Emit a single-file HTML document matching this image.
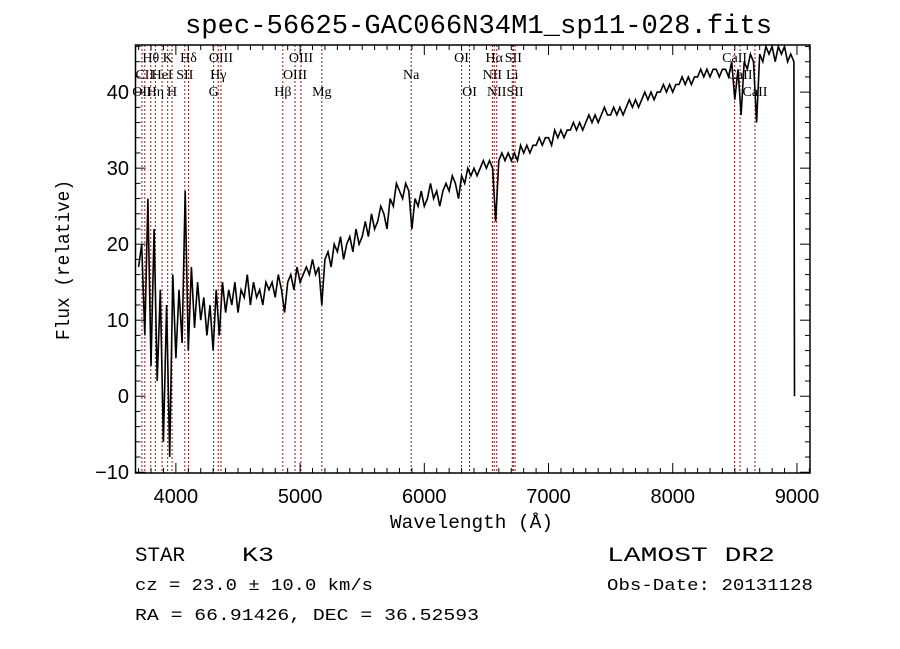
<!DOCTYPE html>
<html><head><meta charset="utf-8"><style>
body{margin:0;background:#fff;}
svg{display:block;}
</style></head><body>
<svg id="chart" width="900" height="649" xmlns="http://www.w3.org/2000/svg">
<rect width="900" height="649" fill="#fff"/>
<text x="185" y="33" font-family="Liberation Mono, monospace" font-size="27" textLength="587" lengthAdjust="spacingAndGlyphs">spec-56625-GAC066N34M1_sp11-028.fits</text>
<g id="lines"></g>
<g id="labels" font-family="Liberation Serif, serif" font-size="14"></g>
<path id="spec" fill="none" stroke="#000" stroke-width="1.6" stroke-linejoin="miter"/>
<g id="axes"></g>
<text x="390" y="528" font-family="Liberation Mono, monospace" font-size="19" textLength="163" lengthAdjust="spacingAndGlyphs">Wavelength (Å)</text>
<text transform="translate(69,340) rotate(-90)" font-family="Liberation Mono, monospace" font-size="19" textLength="160" lengthAdjust="spacingAndGlyphs">Flux (relative)</text>
<g font-family="Liberation Mono, monospace" font-size="20">
<text x="135" y="561" textLength="50" lengthAdjust="spacingAndGlyphs">STAR</text>
<text x="242" y="561" textLength="32" lengthAdjust="spacingAndGlyphs">K3</text>
<text x="607" y="561" textLength="168" lengthAdjust="spacingAndGlyphs">LAMOST DR2</text>
<text x="135" y="590" font-size="17" textLength="238" lengthAdjust="spacingAndGlyphs">cz = 23.0 ± 10.0 km/s</text>
<text x="607" y="590" font-size="17" textLength="206" lengthAdjust="spacingAndGlyphs">Obs-Date: 20131128</text>
<text x="135" y="620" font-size="17" textLength="344" lengthAdjust="spacingAndGlyphs">RA =  66.91426, DEC =  36.52593</text>
</g>
</svg>
<script>
const wlStart = 3700;
const wlStep = 25;
const flux = [17,20,8,26,4,22,2,14,-6,12,-8,16,5,14,7,27,6,17,9,15,10,13,8,12,6,14,8,15,11,14,12,15,11,14,13,16,12,15,13,14,12,15,14,15,13,16,14,11,15,16,14,17,15,16,17,16,18,16,17,12,18,19,17,20,19,21,18,20,21,19,22,20,21,23,21,24,22,23,25,24,22,26,25,28,27,26,28,27,22,26,25,27,25,26,28,26,27,25,27,28,27,29,28,26,29,28,30,29,30,29,30,31,30,31,30,23,31,32,31,32,31,32,31,33,32,33,32,33,33,34,33,34,34,33,35,34,35,34,35,35,36,35,36,35,36,37,36,37,36,37,38,37,37,38,37,38,37,38,39,38,39,38,39,40,39,40,39,40,40,41,40,41,40,41,41,42,41,42,41,42,42,43,42,43,42,43,43,42,43,43,42,44,39,43,37,44,43,45,44,36,45,44,46,45,46,44,46,45,46,44,45,44,0];
const lineWl = [3727,3750,3798,3835,3889,3934,3969,4072,4102,4304,4341,4363,4861,4959,5007,5175,5894,6300,6364,6548,6563,6583,6708,6717,6731,8498,8542,8662];
const lineNames = ["OII","CII","Hθ","Hη","HeI","K","H","SII","Hδ","G","Hγ","OIII","Hβ","OIII","OIII","Mg","Na","OI","OI","NII","Hα","NII","Li","SII","SII","CaII","CaII","CaII"];
const lineRows = [3,2,1,3,2,1,3,2,1,3,2,1,3,2,1,3,2,1,3,2,1,3,2,1,3,1,2,3];
const xTicks = [4000,5000,6000,7000,8000,9000];
const yTicks = [-10,0,10,20,30,40];

const L=135.5,R=810,T=45,B=473, xmin=3675, xmax=9105, ymin=-10.1, ymax=46.2;
const X=w=>L+(w-xmin)/(xmax-xmin)*(R-L);
const Y=v=>B-(v-ymin)/(ymax-ymin)*(B-T);
const NS="http://www.w3.org/2000/svg";
function mk(tag,parent,attrs){const e=document.createElementNS(NS,tag);for(const k in attrs)e.setAttribute(k,attrs[k]);parent.appendChild(e);return e;}

let d="";
flux.forEach((f,i)=>{let w=wlStart+i*wlStep; if(i===flux.length-1) w-=20; d+=(i?"L":"M")+X(w).toFixed(1)+" "+Y(f).toFixed(1);});
document.getElementById('spec').setAttribute('d',d);

const lg=document.getElementById('lines'), lb=document.getElementById('labels');
lineWl.forEach((w,i)=>{
  const l=mk('line',lg,{x1:X(w),x2:X(w),y1:T,y2:B,stroke:'#8b1a1a','stroke-width':1,'stroke-dasharray':'2,2'});
  
  
  const t=mk('text',lb,{x:X(w),y:[0,62,79,96][lineRows[i]],'text-anchor':'middle'});
  t.textContent=lineNames[i];
  
  
});

const ax=document.getElementById('axes');
const fr=mk('rect',ax,{x:L,y:T,width:R-L,height:B-T,fill:'none',stroke:'#000','stroke-width':1.5});


for(let w=3700;w<=9100;w+=100){
  const len=(w%1000===0)?10:5;
  mk('line',ax,{x1:X(w),x2:X(w),y1:B,y2:B-len,stroke:'#000'});
  mk('line',ax,{x1:X(w),x2:X(w),y1:T,y2:T+len,stroke:'#000'});
}
for(let v=-10;v<=46;v+=2){
  const len=(v%10===0)?10:5;
  mk('line',ax,{x1:L,x2:L+len,y1:Y(v),y2:Y(v),stroke:'#000'});
  mk('line',ax,{x1:R,x2:R-len,y1:Y(v),y2:Y(v),stroke:'#000'});
}
xTicks.forEach(w=>{
  const t=mk('text',ax,{x:X(w),y:503,'text-anchor':'middle','font-family':'Liberation Sans, sans-serif','font-size':20});
  t.textContent=w;
  
  
});
yTicks.forEach(v=>{
  const t=mk('text',ax,{x:129,y:Y(v)+7,'text-anchor':'end','font-family':'Liberation Sans, sans-serif','font-size':20});
  t.textContent=(v<0?'\u2212':'')+Math.abs(v);
  
  
});
</script>
</body></html>
